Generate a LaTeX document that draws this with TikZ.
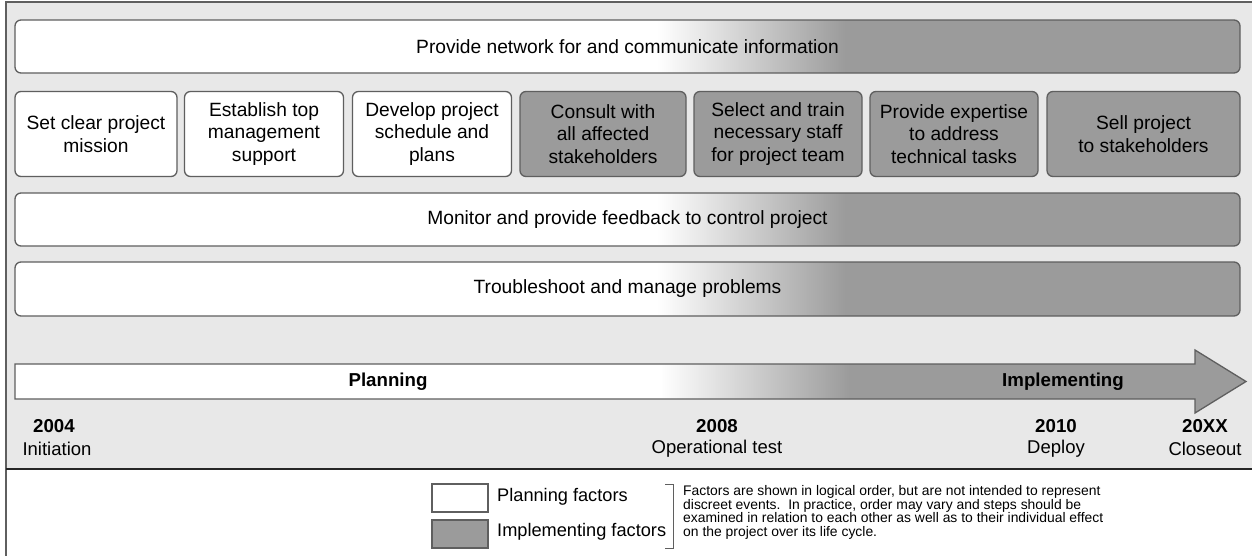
\documentclass[tikz,border=0pt]{standalone}
\usepackage{fontspec}
\setmainfont{Liberation Sans}
\definecolor{implgray}{RGB}{155,155,155}
\definecolor{edgegray}{RGB}{95,95,95}
\definecolor{panelgray}{RGB}{232,232,232}
\pgfdeclarehorizontalshading{planimpl}{100bp}{color(0bp)=(white); color(51.2bp)=(white); color(58.9bp)=(implgray); color(100bp)=(implgray)}
\begin{document}
\begin{tikzpicture}[x=1pt,y=-1pt,
  font=\fontsize{19.2}{22.5}\selectfont,
  bar/.style={draw=edgegray, line width=1.3pt, rounded corners=6pt, minimum width=1225pt, minimum height=53pt, shade, shading=planimpl, inner sep=0pt},
  planbox/.style={draw=edgegray, line width=1.3pt, rounded corners=6pt, fill=white, minimum height=85pt, align=center, inner sep=0pt},
  implbox/.style={planbox, fill=implgray},
  yearlbl/.style={font=\fontsize{18.7}{21.5}\selectfont\bfseries, inner sep=0pt},
  eventlbl/.style={font=\fontsize{18.5}{21.5}\selectfont, inner sep=0pt},
  legbox/.style={draw=edgegray, line width=1.3pt, minimum width=56pt, minimum height=28pt, inner sep=0pt},
  legtext/.style={anchor=west, inner sep=0pt, font=\fontsize{18.2}{21.5}\selectfont}]
\useasboundingbox (0,0) rectangle (1252,555);
% panel and frame
\fill[panelgray] (6,2) rectangle (1252,469);
\draw[edgegray, line width=1.5pt] (6,560) -- (6,2) -- (1260,2);
\draw[black!85, line width=2pt] (6,469) -- (1260,469);
% bars
\node[bar] (net) at (627.5,46.5) {Provide network for and communicate information};
\node[bar] (mon) at (627.5,219.5) {Monitor and provide feedback to control project};
\node[bar, minimum height=54pt] (trb) at (627.5,289) {Troubleshoot and manage problems};
% boxes
\node[planbox, minimum width=162pt] (b1) at (96,134) {Set clear project\\mission};
\node[planbox, minimum width=159pt] (b2) at (264,134) {Establish top\\management\\support};
\node[planbox, minimum width=159pt] (b3) at (432,134) {Develop project\\schedule and\\plans};
\node[implbox, minimum width=166pt] (b4) at (603,134) {Consult with\\all affected\\stakeholders};
\node[implbox, minimum width=168pt] (b5) at (778,134) {Select and train\\necessary staff\\for project team};
\node[implbox, minimum width=168pt] (b6) at (954,134) {Provide expertise\\to address\\technical tasks};
\node[implbox, minimum width=193pt] (b7) at (1143.5,134) {Sell project\\to stakeholders};
% timeline arrow
\path[draw=edgegray, line width=1.3pt, shade, shading=planimpl]
  (15,364) -- (1195,364) -- (1195,350) -- (1246,381.5) -- (1195,413) -- (1195,399) -- (15,399) -- cycle;
\node[yearlbl] (plan) at (388,382) {Planning};
\node[yearlbl] (impl) at (1063,382) {Implementing};
% milestones
\node[yearlbl] (y1) at (54,426) {2004};
\node[eventlbl] (e1) at (57,449) {Initiation};
\node[yearlbl] (y2) at (717,426) {2008};
\node[eventlbl] (e2) at (717,449) {Operational test};
\node[yearlbl] (y3) at (1056,426) {2010};
\node[eventlbl] (e3) at (1056,449) {Deploy};
\node[yearlbl] (y4) at (1205,426) {20XX};
\node[eventlbl] (e4) at (1205,449) {Closeout};
% legend
\node[legbox, fill=white] (lp) at (460,498) {};
\node[legbox, fill=implgray] (li) at (460,534) {};
\node[legtext] (tp) at (497,497) {Planning factors};
\node[legtext] (ti) at (497,532) {Implementing factors};
\draw[edgegray, line width=1pt] (665,484) -- (673,484) -- (673,548) -- (665,548);
\node[anchor=north west, align=left, inner sep=0pt, font=\fontsize{13.9}{13.8}\selectfont] (note) at (683,485)
 {Factors are shown in logical order, but are not intended to represent\\
  discreet events.\ \ In practice, order may vary and steps should be\\
  examined in relation to each other as well as to their individual effect\\
  on the project over its life cycle.};
\end{tikzpicture}
\end{document}
